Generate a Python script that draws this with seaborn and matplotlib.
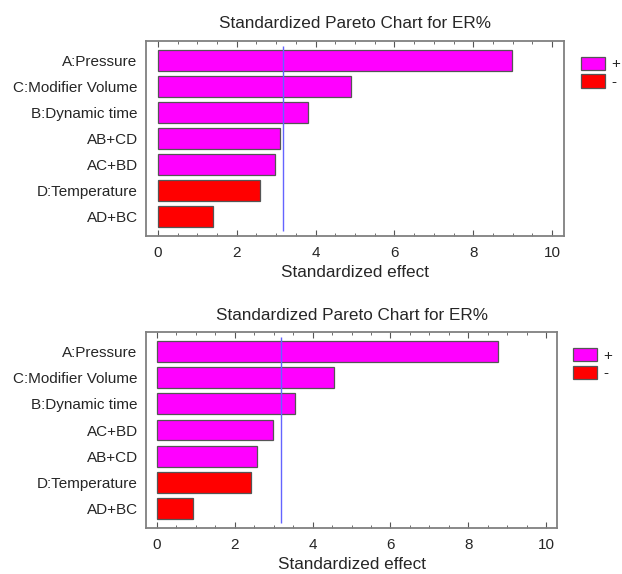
import numpy as np
import pandas as pd
import matplotlib
matplotlib.use("Agg")
import matplotlib.pyplot as plt
from matplotlib.ticker import MultipleLocator
import seaborn as sns

# effects
factors_top = ["A:Pressure", "C:Modifier Volume", "B:Dynamic time", "AB+CD",
               "AC+BD", "D:Temperature", "AD+BC"]
effects_top = [8.98, 4.89, 3.80, 3.09, 2.98, 2.59, 1.40]
signs_top = ["+", "+", "+", "+", "+", "-", "-"]

factors_bot = ["A:Pressure", "C:Modifier Volume", "B:Dynamic time", "AC+BD",
               "AB+CD", "D:Temperature", "AD+BC"]
effects_bot = [8.77, 4.54, 3.55, 2.99, 2.58, 2.41, 0.94]
signs_bot = ["+", "+", "+", "+", "+", "-", "-"]

t_crit = 3.18
title = "Standardized Pareto Chart for ER%"
xlabel = "Standardized effect"

sns.set_style("white")
plt.rcParams["font.family"] = ["Liberation Sans", "DejaVu Sans"]

palette = {"+": "#ff00ff", "-": "#ff0000"}

fig = plt.figure(figsize=(6.22, 5.74), dpi=100)
ax1 = fig.add_axes([146 / 622, 1 - 236 / 574, 418 / 622, 195 / 574])
ax2 = fig.add_axes([146 / 622, 1 - 528 / 574, 411 / 622, 196 / 574])


def pareto(ax, factors, effects, signs, xlim, legend_pos):
    df = pd.DataFrame({"factor": factors, "effect": effects, "sign": signs})
    sns.barplot(data=df, x="effect", y="factor", hue="sign", order=factors,
                hue_order=["+", "-"], palette=palette, dodge=False,
                width=0.8, edgecolor="#555555", linewidth=0.9,
                saturation=1, ax=ax)
    ax.set_ylim(6.75, -0.75)
    ax.set_xlim(*xlim)
    ax.vlines(t_crit, -0.56, 6.56, color="#6464ff", linewidth=1)
    ax.set_title(title, fontsize=12.3, pad=9)
    ax.set_xlabel(xlabel, fontsize=12.3, labelpad=4)
    ax.set_ylabel("")
    ax.xaxis.set_major_locator(MultipleLocator(2))
    ax.xaxis.set_minor_locator(MultipleLocator(0.5))
    ax.tick_params(axis="x", which="both", direction="in", top=True,
                   bottom=True, color="#555555", labelsize=11, pad=7)
    ax.tick_params(axis="x", which="major", length=4)
    ax.tick_params(axis="x", which="minor", length=2)
    ax.tick_params(axis="y", length=0, labelsize=11, pad=6)
    for s in ax.spines.values():
        s.set_color("#808080")
        s.set_linewidth(1.3)
    sns.move_legend(ax, "upper left", bbox_to_anchor=legend_pos, frameon=False,
                    title=None, fontsize=11, handlelength=1.55,
                    handleheight=0.95, handletextpad=0.45, labelspacing=0.2,
                    borderaxespad=0, borderpad=0)


pareto(ax1, factors_top, effects_top, signs_top, (-0.3, 10.3), (1.041, 0.92))
pareto(ax2, factors_bot, effects_bot, signs_bot, (-0.28, 10.28), (1.039, 0.92))

fig.savefig("out.png", dpi=100)
